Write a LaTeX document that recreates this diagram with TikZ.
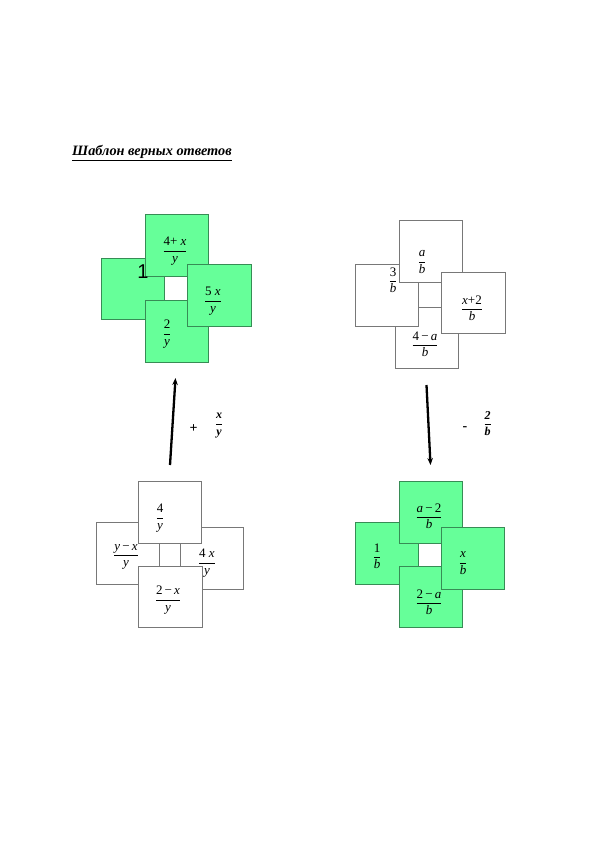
\documentclass[tikz,border=0pt]{standalone}
\usepackage{amsmath}
\usepackage{fontspec}
\setmainfont{Liberation Serif}
\newfontfamily\arialfont{Liberation Sans}
\usetikzlibrary{arrows.meta}
\definecolor{sqgreen}{RGB}{102,255,153}
\definecolor{sqgreenline}{RGB}{55,140,85}
\definecolor{sqgrayline}{RGB}{120,120,120}
\tikzset{
  gsq/.style={draw=sqgreenline, fill=sqgreen, line width=0.6pt, inner sep=0pt},
  wsq/.style={draw=sqgrayline, fill=white, line width=0.6pt, inner sep=0pt},
  frac/.style={inner sep=0pt, font=\fontsize{13}{15}\selectfont},
  opfrac/.style={inner sep=0pt, font=\fontsize{12}{14}\selectfont\bfseries},
  opsign/.style={inner sep=0pt, font=\fontsize{14}{16}\selectfont\bfseries},
  bigarrow/.style={line width=2.3pt, -{Stealth[length=7pt,width=5.5pt]}}
}
\newcommand{\sq}[5]{\node[#1, minimum width=#4pt, minimum height=#5pt] (#2) at (#3) {};}
\newcommand{\fr}[2]{$\dfrac{\text{#1}}{\text{#2}}$}
\newcommand{\opfr}[2]{$\dfrac{\text{\bfseries\itshape #1}}{\text{\bfseries\itshape #2}}$}
\begin{document}
\begin{tikzpicture}[x=1pt,y=-1pt]
\useasboundingbox (0,0) rectangle (595,842);
% title
\node[anchor=base west, inner sep=0pt, font=\fontsize{14.3}{16}\selectfont\bfseries\itshape] (title) at (72,155.5) {\underline{Шаблон верных ответов}};

% ---- top-left group (green) ----
\sq{gsq}{tlL}{132.5,288.5}{63}{61}
\sq{gsq}{tlT}{176.5,245}{63}{62}
\sq{gsq}{tlB}{176.5,331}{63}{62}
\sq{gsq}{tlR}{219,295}{64}{62}
\node[inner sep=0pt, font=\arialfont\fontsize{20}{22}\selectfont] (one) at (143,271.5) {1};
\node[frac] (tlTl) at (175,251) {\fr{4+ \textit{x}}{\textit{y}}};
\node[frac] (tlRl) at (213,301) {\fr{5 \textit{x}}{\textit{y}}};
\node[frac] (tlBl) at (167,334) {\fr{2}{\textit{y}}};

% ---- top-right group (white) ----
\sq{wsq}{trB}{426.5,337.5}{63}{61}
\sq{wsq}{trL}{386.5,295}{63}{62}
\sq{wsq}{trT}{430.5,251}{63}{62}
\sq{wsq}{trR}{473,302.5}{64}{61}
\node[frac] (trTl) at (422,262) {\fr{\textit{a}}{\textit{b}}};
\node[frac] (trLl) at (393,280) {\fr{3}{\textit{b}}};
\node[frac] (trRl) at (472,308) {\fr{\textit{x}+2}{\textit{b}}};
\node[frac] (trBl) at (425,344) {\fr{4\,−\,\textit{a}}{\textit{b}}};

% ---- bottom-left group (white) ----
\sq{wsq}{blL}{127.5,553}{63}{62}
\sq{wsq}{blR}{212,558}{63}{62}
\sq{wsq}{blT}{169.5,512}{63}{62}
\sq{wsq}{blB}{170,596.5}{64}{61}
\node[frac] (blTl) at (160,518) {\fr{4}{\textit{y}}};
\node[frac] (blLl) at (126,557) {\fr{\textit{y}\,−\,\textit{x}}{\textit{y}}};
\node[frac] (blRl) at (207,563) {\fr{4 \textit{x}}{\textit{y}}};
\node[frac] (blBl) at (168,600) {\fr{2\,−\,\textit{x}}{\textit{y}}};

% ---- bottom-right group (green) ----
\sq{gsq}{brL}{386.5,553}{63}{62}
\sq{gsq}{brT}{430.5,512}{63}{62}
\sq{gsq}{brB}{430.5,596.5}{63}{61}
\sq{gsq}{brR}{472.5,558}{63}{62}
\node[frac] (brTl) at (429,516) {\fr{\textit{a}\,−\,2}{\textit{b}}};
\node[frac] (brLl) at (377,556) {\fr{1}{\textit{b}}};
\node[frac] (brRl) at (463,563) {\fr{\textit{x}}{\textit{b}}};
\node[frac] (brBl) at (429,602) {\fr{2\,−\,\textit{a}}{\textit{b}}};

% ---- arrows ----
\coordinate (la0) at (170,465);
\coordinate (la1) at (175.5,378);
\coordinate (ra0) at (426.5,385);
\coordinate (ra1) at (430.5,465);
\draw[bigarrow] (la0) -- (la1);
\draw[bigarrow] (ra0) -- (ra1);
\node[opsign] (plus) at (193.5,429) {+};
\node[opfrac] (opl) at (219,425.5) {\opfr{x}{y}};
\node[opsign] (minus) at (465,428.5) {-};
\node[opfrac] (opr) at (487.5,423.5) {\opfr{2}{b}};
\end{tikzpicture}
\end{document}
